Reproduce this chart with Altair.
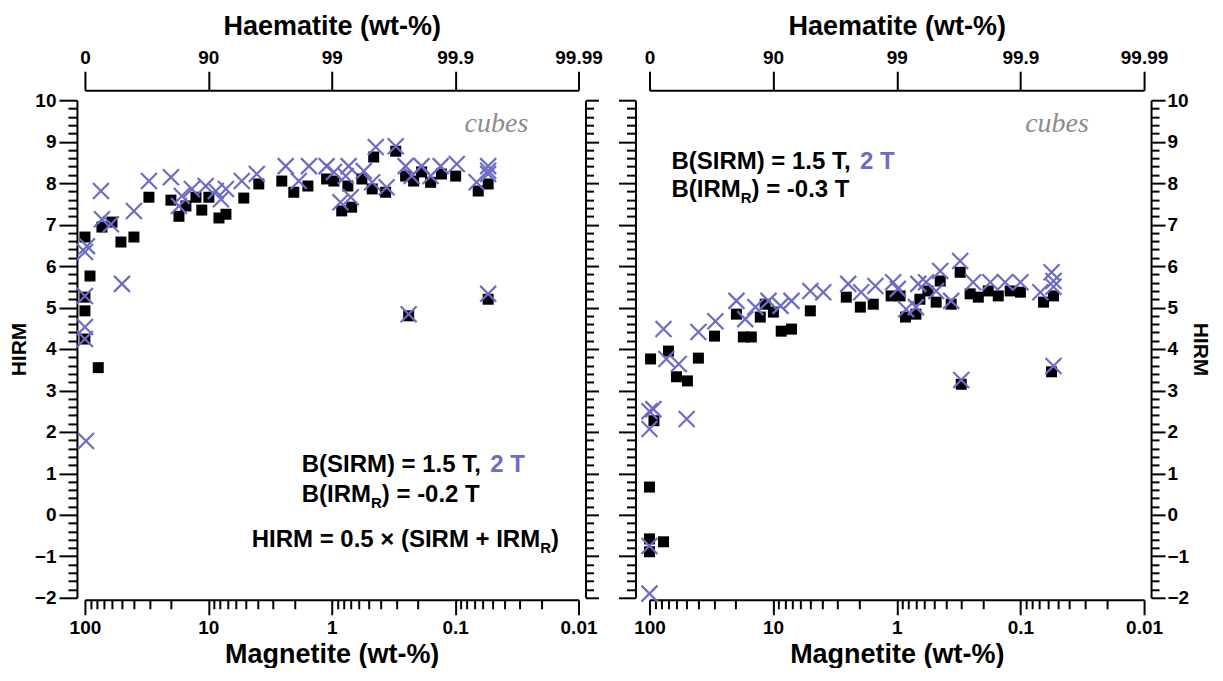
import altair as alt
import pandas as pd

# ---------------- data (magnetite wt-%, HIRM) ----------------
# left panel: B(IRM_R) = -0.2 T
L_SQ_X = [100, 91, 100, 100, 100, 78, 72.8, 60.4, 51.1, 40.1, 30.3, 20.1, 17.3, 15.2, 12.6, 11.3,
          9.9, 8.2, 7.2, 5.16, 3.90, 2.54, 2.03, 1.56, 1.10, 0.96, 0.74, 0.83, 0.69, 0.57, 0.47,
          0.457, 0.366, 0.303, 0.252, 0.217, 0.187, 0.158, 0.129, 0.099, 0.065, 0.054, 0.238, 0.054]
L_SQ_Y = [6.70, 5.76, 5.25, 4.92, 4.24, 3.55, 6.94, 7.06, 6.58, 6.70, 7.66, 7.59, 7.20, 7.45, 7.66, 7.35,
          7.66, 7.16, 7.25, 7.64, 7.98, 8.05, 7.78, 7.93, 8.10, 8.05, 7.93, 7.33, 7.42, 8.10, 7.86,
          8.63, 7.78, 8.77, 8.17, 8.05, 8.27, 8.02, 8.22, 8.17, 7.81, 7.98, 4.80, 5.20]
L_X_X = [74.2, 72.8, 61.6, 96.3, 100, 50.1, 40.1, 30.3, 20.1, 16.4, 17.3, 13.6, 10.5, 8.7, 7.2, 7.9,
         5.36, 4.05, 100, 100, 100, 98, 2.36, 1.53, 1.85, 1.10, 0.96, 0.73, 0.77, 0.85, 0.70, 0.55,
         0.47, 0.44, 0.303, 0.359, 0.252, 0.187, 0.225, 0.131, 0.158, 0.097, 0.067, 0.054, 0.054,
         0.054, 0.238, 0.054]
L_X_Y = [7.81, 7.13, 7.01, 6.48, 6.34, 5.57, 7.33, 8.05, 8.14, 7.69, 7.45, 7.86, 7.93, 7.81, 7.86, 7.61,
         8.05, 8.22, 5.28, 4.53, 4.24, 1.78, 8.41, 8.41, 8.05, 8.41, 8.27, 8.41, 8.17, 7.54, 7.66, 8.29,
         8.02, 8.87, 8.89, 7.90, 8.41, 8.41, 8.17, 8.41, 8.17, 8.46, 8.02, 8.41, 8.22,
         8.30, 4.84, 5.33]

# right panel: B(IRM_R) = -0.3 T
R_SQ_X = [98, 70.2, 60.5, 49.3, 40.2, 29.8, 19.8, 17.4, 15.0, 12.7, 11.6, 9.95, 8.6, 7.1, 5.0, 92,
          100, 100, 77, 100, 2.56, 1.97, 1.55, 1.11, 0.94, 0.85, 0.70, 0.65, 0.56, 0.48, 0.445,
          0.363, 0.307, 0.255, 0.219, 0.182, 0.151, 0.121, 0.100, 0.065, 0.054, 0.056, 0.301]
R_SQ_Y = [3.76, 3.95, 3.33, 3.23, 3.78, 4.31, 4.84, 4.29, 4.29, 4.77, 5.08, 4.89, 4.43, 4.48, 4.92, 2.27,
          0.67, -0.58, -0.65, -0.89, 5.25, 5.01, 5.08, 5.28, 5.28, 4.77, 4.84, 5.20, 5.40, 5.13, 5.64,
          5.08, 5.85, 5.33, 5.25, 5.40, 5.28, 5.40, 5.37, 5.13, 5.28, 3.45, 3.15]
R_X_X = [77, 100, 93, 100, 73, 58, 50, 40.2, 29.3, 19.8, 16.8, 13.9, 10.9, 8.7, 7.1, 5.0, 3.93,
         2.47, 1.94, 1.49, 1.07, 0.98, 0.84, 0.70, 0.67, 0.58, 0.48, 0.445, 0.363, 0.307, 0.241,
         0.175, 0.133, 0.100, 0.069, 0.056, 0.054, 0.054, 0.054, 0.301, 100, 100]
R_X_Y = [4.48, 2.50, 2.55, 2.07, 3.76, 3.64, 2.31, 4.41, 4.67, 5.16, 4.72, 5.01, 5.16, 5.04, 5.16, 5.40, 5.37,
         5.57, 5.37, 5.52, 5.61, 5.45, 4.96, 5.01, 5.57, 5.61, 5.40, 5.88, 5.16, 6.12, 5.61,
         5.61, 5.61, 5.61, 5.37, 5.85, 5.64, 5.50, 3.59, 3.25, -0.75, -1.90]

# axis tick values / labels
X_MAJOR = [100, 10, 1, 0.1, 0.01]
X_MINOR = [round(k * 10.0 ** e, 4) for e in (1, 0, -1, -2) for k in range(2, 10)]
HAEM_LABELS = ["0", "90", "99", "99.9", "99.99"]
Y_MAJOR = list(range(-2, 11))
Y_MINOR = [round(-2 + 0.2 * i, 1) for i in range(61) if i % 5 != 0]

SANS = "Liberation Sans"
SERIF = "Liberation Serif"
BLUE = "#6c6cc8"
LBL = 19
TTL = 27
YTTL = 21
ANN = 24
SUB = 15

X_PATH = "M-1,-1L1,1M-1,1L1,-1"

haem_expr = " : ".join(
    f"datum.value == {v} ? '{lab}'" for v, lab in zip(X_MAJOR[:-1], HAEM_LABELS[:-1])
) + f" : '{HAEM_LABELS[-1]}'"


def common_axis(**kw):
    base = dict(grid=False, tickColor="black", tickWidth=2, domainColor="black", domainWidth=2,
                labelFont=SANS, labelFontWeight="bold", labelFontSize=LBL, labelColor="black",
                titleFont=SANS, titleFontWeight="bold", titleFontSize=TTL, titleColor="black",
                labelOverlap=False, labelFlush=False)
    base.update(kw)
    return alt.Axis(**base)


def panel(sq_x, sq_y, x_x, x_y, width, xrange, left_labels, annotations):
    height = 510
    xs = alt.Scale(type="log", domain=[100, 0.01], range=xrange, nice=False)
    ys = alt.Scale(domain=[-2, 10], range=[508, 10], nice=False, zero=False)
    sq = pd.DataFrame({"m": sq_x, "h": sq_y})
    cr = pd.DataFrame({"m": x_x, "h": x_y})

    ax_bottom = common_axis(orient="bottom", values=X_MAJOR, labelExpr="'' + datum.value",
                            tickSize=15, labelPadding=4, title="Magnetite (wt-%)", titlePadding=4)
    if left_labels:
        ax_left = common_axis(orient="left", values=Y_MAJOR, tickSize=18, labelPadding=3,
                              title="HIRM", titleFontSize=YTTL, titlePadding=5)
        ax_left_minor = common_axis(orient="left", values=Y_MINOR, tickSize=9, labels=False,
                                    domain=False, title=None)
        ax_right = common_axis(orient="right", values=Y_MAJOR, tickSize=13, labels=False, title=None)
        ax_right_minor = common_axis(orient="right", values=Y_MINOR, tickSize=8, labels=False,
                                     domain=False, title=None)
    else:
        ax_left = common_axis(orient="left", values=Y_MAJOR, tickSize=17, labels=False, title=None)
        ax_left_minor = common_axis(orient="left", values=Y_MINOR, tickSize=9, labels=False,
                                    domain=False, title=None)
        ax_right = common_axis(orient="right", values=Y_MAJOR, tickSize=14, labelPadding=2,
                               title="HIRM", titleFontSize=YTTL, titlePadding=1)
        ax_right_minor = common_axis(orient="right", values=Y_MINOR, tickSize=8, labels=False,
                                     domain=False, title=None)
    ax_bottom_minor = common_axis(orient="bottom", values=X_MINOR, tickSize=9, labels=False,
                                  domain=False, title=None)
    ax_top = common_axis(orient="top", values=X_MAJOR, labelExpr=haem_expr, tickSize=19,
                         labelPadding=4, title="Haematite (wt-%)", titlePadding=8)

    squares = alt.Chart(sq).mark_point(shape="square", filled=True, size=121, color="black",
                                       opacity=1).encode(
        x=alt.X("m:Q", scale=xs, axis=ax_bottom),
        y=alt.Y("h:Q", scale=ys, axis=ax_left),
    )
    crosses = alt.Chart(cr).mark_point(shape=X_PATH, filled=False, size=256, color=BLUE,
                                       strokeWidth=2.2, opacity=1).encode(
        x=alt.X("m:Q", scale=xs, axis=ax_bottom_minor),
        y=alt.Y("h:Q", scale=ys, axis=ax_left_minor),
    )
    carrier1 = alt.Chart(sq).mark_point(opacity=0).encode(
        x=alt.X("m:Q", scale=xs, axis=ax_top),
        y=alt.Y("h:Q", scale=ys, axis=ax_right),
    )
    carrier2 = alt.Chart(sq).mark_point(opacity=0).encode(
        x=alt.X("m:Q", scale=xs, axis=None),
        y=alt.Y("h:Q", scale=ys, axis=ax_right_minor),
    )
    layers = [squares, crosses, carrier1, carrier2]
    for (txt, px, py, size, color, font, style, weight) in annotations:
        layers.append(
            alt.Chart(pd.DataFrame({"t": [txt]})).mark_text(
                align="left", baseline="middle", font=font, fontSize=size, color=color,
                fontStyle=style, fontWeight=weight
            ).encode(x=alt.value(px), y=alt.value(py), text="t:N")
        )
    return alt.layer(*layers).resolve_axis(x="independent", y="independent").properties(
        width=width, height=height)


# annotation texts
CUBES = "cubes"
SIRM_TXT = "B(SIRM) = 1.5 T, "
SIRM_BLUE = "2 T"
IRM_A = "B(IRM"
IRM_SUB = "R"
IRM_L_B = ") = -0.2 T"
IRM_R_B = ") = -0.3 T"
HIRM_A = "HIRM = 0.5 × (SIRM + IRM"
HIRM_B = ")"

w_sirm = 7.863 * ANN
w_irm = 2.888 * ANN
w_hirm = 12.031 * ANN
w_sub = 0.722 * SUB

left_ann = [
    (CUBES, 388, 34, 28, "#8c8c8c", SERIF, "italic", "normal"),
    (SIRM_TXT, 225, 375, ANN, "black", SANS, "normal", "bold"),
    (SIRM_BLUE, 225 + w_sirm, 375, ANN, BLUE, SANS, "normal", "bold"),
    (IRM_A, 225, 405, ANN, "black", SANS, "normal", "bold"),
    (IRM_SUB, 225 + w_irm, 413, SUB, "black", SANS, "normal", "bold"),
    (IRM_L_B, 225 + w_irm + w_sub, 405, ANN, "black", SANS, "normal", "bold"),
    (HIRM_A, 175, 450, ANN, "black", SANS, "normal", "bold"),
    (IRM_SUB, 175 + w_hirm, 458, SUB, "black", SANS, "normal", "bold"),
    (HIRM_B, 175 + w_hirm + w_sub, 450, ANN, "black", SANS, "normal", "bold"),
]
right_ann = [
    (CUBES, 390, 34, 28, "#8c8c8c", SERIF, "italic", "normal"),
    (SIRM_TXT, 36, 72, ANN, "black", SANS, "normal", "bold"),
    (SIRM_BLUE, 36 + w_sirm, 72, ANN, BLUE, SANS, "normal", "bold"),
    (IRM_A, 36, 100, ANN, "black", SANS, "normal", "bold"),
    (IRM_SUB, 36 + w_irm, 108, SUB, "black", SANS, "normal", "bold"),
    (IRM_R_B, 36 + w_irm + w_sub, 100, ANN, "black", SANS, "normal", "bold"),
]

left = panel(L_SQ_X, L_SQ_Y, L_X_X, L_X_Y, 509, [8, 502], True, left_ann)
right = panel(R_SQ_X, R_SQ_Y, R_X_X, R_X_Y, 516, [14, 509], False, right_ann)

chart = alt.hconcat(left, right, spacing=50, bounds="flush").properties(
    padding={"left": 0, "top": 4, "right": 4, "bottom": 0}
).configure_view(strokeWidth=0)

chart.save("out.html", embed_options={"renderer": "svg", "actions": False})
